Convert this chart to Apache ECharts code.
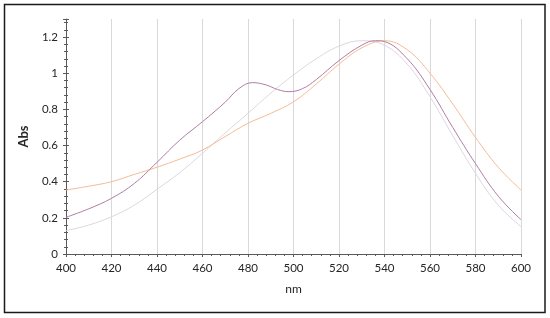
<!DOCTYPE html>
<html>
<head>
<meta charset="utf-8">
<script src="https://cdn.jsdelivr.net/npm/echarts@6/dist/echarts.min.js"></script>
<style>
html,body{margin:0;padding:0;background:#fff;}
#chart{width:550px;height:318px;}
</style>
</head>
<body>
<div id="chart"></div>
<script>
var purpleNm = [400,410,420,430,440,450,460,470,476,482,488,493,498,504,510,520,530,536,540,550,560,570,580,590,600];
var purpleAbs = [0.203,0.25,0.308,0.39,0.507,0.63,0.732,0.84,0.915,0.948,0.935,0.91,0.898,0.915,0.965,1.07,1.155,1.18,1.175,1.08,0.91,0.70,0.50,0.32,0.19];

var orangeNm = [400,410,420,430,440,450,460,470,480,490,500,510,520,530,540,550,560,570,580,590,600];
var orangeAbs = [0.354,0.375,0.40,0.44,0.48,0.525,0.575,0.65,0.723,0.778,0.842,0.94,1.05,1.14,1.18,1.13,1.0,0.83,0.645,0.48,0.354];

var greyNm = [400,410,420,430,440,450,460,470,480,490,500,510,520,530,540,550,560,570,580,590,600];
var greyAbs = [0.129,0.16,0.206,0.27,0.358,0.45,0.557,0.67,0.778,0.89,0.99,1.08,1.15,1.18,1.155,1.05,0.87,0.655,0.446,0.27,0.151];

function pairs(xs, ys){ return xs.map(function(x,i){ return [x, ys[i]]; }); }

var chart = echarts.init(document.getElementById('chart'), null, {renderer:'canvas'});
var axisColor = '#595959';
var font = 'Lato, "Liberation Sans", sans-serif';
var gridBox = {left:66, right:29, top:19, bottom:64};

chart.setOption({
  animation:false,
  backgroundColor:'#fff',
  grid: gridBox,
  graphic:[{
    type:'rect', shape:{x:4.5, y:4.5, width:540.5, height:308}, z:-1,
    style:{fill:'none', stroke:'#1a1a1a', lineWidth:1.5}
  }],
  xAxis:[{
    type:'value', min:400, max:600, interval:20,
    name:'nm', nameLocation:'middle', nameGap:29,
    nameTextStyle:{color:'#262626', fontSize:12, fontFamily:font},
    axisLine:{show:true, lineStyle:{color:axisColor, width:1}},
    axisTick:{show:true, length:3, lineStyle:{color:axisColor}},
    minorTick:{show:true, splitNumber:5, length:2, lineStyle:{color:axisColor}},
    axisLabel:{color:'#262626', fontSize:11.5, fontFamily:font, margin:8},
    splitLine:{show:true, lineStyle:{color:'#d9d9d9', width:1}}
  },{
    type:'value', min:400, max:600, interval:20, gridIndex:0,
    axisLine:{show:false},
    axisTick:{show:true, inside:true, length:3, lineStyle:{color:axisColor}},
    minorTick:{show:true, splitNumber:5, length:2, lineStyle:{color:axisColor}},
    axisLabel:{show:false}, splitLine:{show:false}
  }],
  yAxis:[{
    type:'value', min:0, max:1.3, interval:0.2,
    name:'Abs', nameLocation:'middle', nameGap:36, nameRotate:90,
    nameTextStyle:{color:'#262626', fontSize:13, fontWeight:'bold', fontFamily:font},
    axisLine:{show:true, lineStyle:{color:axisColor, width:1}},
    axisTick:{show:true, length:3, lineStyle:{color:axisColor}},
    minorTick:{show:true, splitNumber:5, length:2, lineStyle:{color:axisColor}},
    axisLabel:{color:'#262626', fontSize:11.5, fontFamily:font, margin:8,
      formatter:function(v){ return v > 1.25 ? '' : String(Math.round(v*10)/10); }},
    splitLine:{show:false}
  },{
    type:'value', min:0, max:1.3, interval:0.2, gridIndex:0, position:'left',
    axisLine:{show:false},
    axisTick:{show:true, inside:true, length:3, lineStyle:{color:axisColor}},
    minorTick:{show:true, splitNumber:5, length:2, lineStyle:{color:axisColor}},
    axisLabel:{show:false}, splitLine:{show:false}
  }],
  series:[
    {type:'line', name:'grey', data:pairs(greyNm, greyAbs), smooth:0.4, showSymbol:false,
      lineStyle:{color:'#dcd8e2', width:1}},
    {type:'line', name:'orange', data:pairs(orangeNm, orangeAbs), smooth:0.4, showSymbol:false,
      lineStyle:{color:'#f5bc96', width:1}},
    {type:'line', name:'purple', data:pairs(purpleNm, purpleAbs), smooth:0.4, showSymbol:false,
      lineStyle:{color:'#b07ea6', width:1}}
  ]
});
</script>
</body>
</html>
